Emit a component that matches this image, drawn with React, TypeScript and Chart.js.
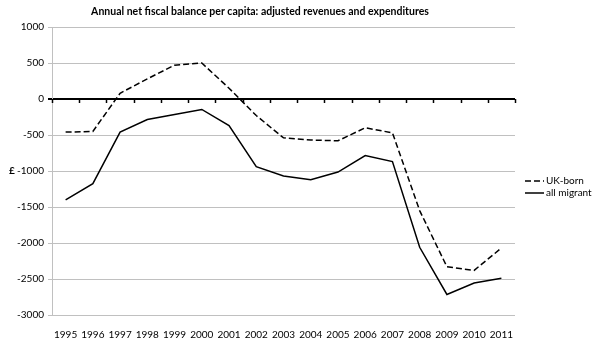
import React, { useEffect, useRef } from "react";
import { Chart, registerables } from "chart.js";

Chart.register(...registerables);

const chartTitle = "Annual net fiscal balance per capita: adjusted revenues and expenditures";
const yAxisLabel = "£";
const years = ["1995", "1996", "1997", "1998", "1999", "2000", "2001", "2002", "2003", "2004", "2005", "2006", "2007", "2008", "2009", "2010", "2011"];
const ukBorn = [-460, -450, 80, 280, 470, 500, 150, -230, -540, -570, -580, -400, -470, -1550, -2330, -2380, -2070];
const allMigrant = [-1400, -1175, -460, -285, -215, -145, -370, -940, -1070, -1120, -1015, -785, -870, -2060, -2715, -2555, -2490];
const seriesNames = ["UK-born", "all migrant"];
const yMin = -3000;
const yMax = 1000;
const yStep = 500;

const FONT = "Lato, 'Open Sans', sans-serif";

const decorPlugin = {
  id: "decor",
  afterDraw(chart: any) {
    const { ctx, chartArea, scales } = chart;
    const xs = scales.x;
    const ys = scales.y;
    ctx.save();
    // tick marks on the zero line
    const y0 = ys.getPixelForValue(0);
    const step = xs.getPixelForValue(1) - xs.getPixelForValue(0);
    const start = xs.getPixelForValue(0) - step / 2;
    ctx.strokeStyle = "#000";
    ctx.lineWidth = 1.5;
    ctx.setLineDash([]);
    for (let i = 0; i <= years.length; i++) {
      const px = Math.round(start + i * step) + 0.5;
      ctx.beginPath();
      ctx.moveTo(px, y0);
      ctx.lineTo(px, y0 + 4);
      ctx.stroke();
    }
    // title
    ctx.fillStyle = "#000";
    ctx.font = "bold 10.5px " + FONT;
    ctx.textAlign = "center";
    ctx.textBaseline = "middle";
    ctx.fillText(chartTitle, 260, 12);
    // y axis label
    ctx.font = "bold 10px " + FONT;
    ctx.textAlign = "left";
    ctx.fillText(yAxisLabel, 9, ys.getPixelForValue(-1000));
    // legend
    ctx.font = "10px " + FONT;
    const ds = chart.data.datasets;
    const lx = chartArea.right + 10;
    const ly = [181, 193];
    ds.forEach((d: any, i: number) => {
      ctx.strokeStyle = d.borderColor;
      ctx.lineWidth = d.borderWidth;
      ctx.setLineDash(d.borderDash || []);
      ctx.beginPath();
      ctx.moveTo(lx, ly[i]);
      ctx.lineTo(lx + 19, ly[i]);
      ctx.stroke();
      ctx.setLineDash([]);
      ctx.fillText(d.label, lx + 21, ly[i]);
    });
    ctx.restore();
  },
};

export default function App() {
  const ref = useRef<HTMLCanvasElement>(null);
  useEffect(() => {
    document.body.style.margin = "0";
    const chart = new Chart(ref.current as HTMLCanvasElement, {
      type: "line",
      data: {
        labels: years,
        datasets: [
          {
            label: seriesNames[0],
            data: ukBorn,
            borderColor: "#000",
            borderWidth: 1.5,
            borderDash: [6, 3],
            pointRadius: 0,
            fill: false,
            tension: 0,
          },
          {
            label: seriesNames[1],
            data: allMigrant,
            borderColor: "#000",
            borderWidth: 1.5,
            pointRadius: 0,
            fill: false,
            tension: 0,
          },
        ],
      },
      options: {
        responsive: false,
        animation: false,
        devicePixelRatio: 1,
        layout: { padding: { top: 27, right: 79, left: 0, bottom: 0 } },
        plugins: {
          legend: { display: false },
          title: { display: false },
          tooltip: { enabled: false },
        },
        scales: {
          x: {
            type: "category",
            offset: true,
            grid: { display: false },
            border: { display: false },
            ticks: {
              color: "#000",
              font: { family: FONT, size: 10 },
              maxRotation: 0,
              autoSkip: false,
              padding: 6,
            },
            afterFit: (s: any) => {
              s.height = 37;
            },
          },
          y: {
            min: yMin,
            max: yMax,
            ticks: {
              stepSize: yStep,
              color: "#000",
              font: { family: FONT, size: 10 },
              padding: 4,
              callback: (v: any) => String(v),
            },
            grid: {
              color: (c: any) => (c.tick && c.tick.value === 0 ? "#000" : "#c0c0c0"),
              lineWidth: (c: any) => (c.tick && c.tick.value === 0 ? 2 : 1),
              tickLength: 4,
            },
            border: { color: "#c0c0c0" },
            afterFit: (s: any) => {
              s.width = 52;
            },
          },
        },
      },
      plugins: [decorPlugin],
    });
    return () => chart.destroy();
  }, []);
  return (
    <div style={{ width: 594, height: 352 }}>
      <canvas ref={ref} width={594} height={352} />
    </div>
  );
}
